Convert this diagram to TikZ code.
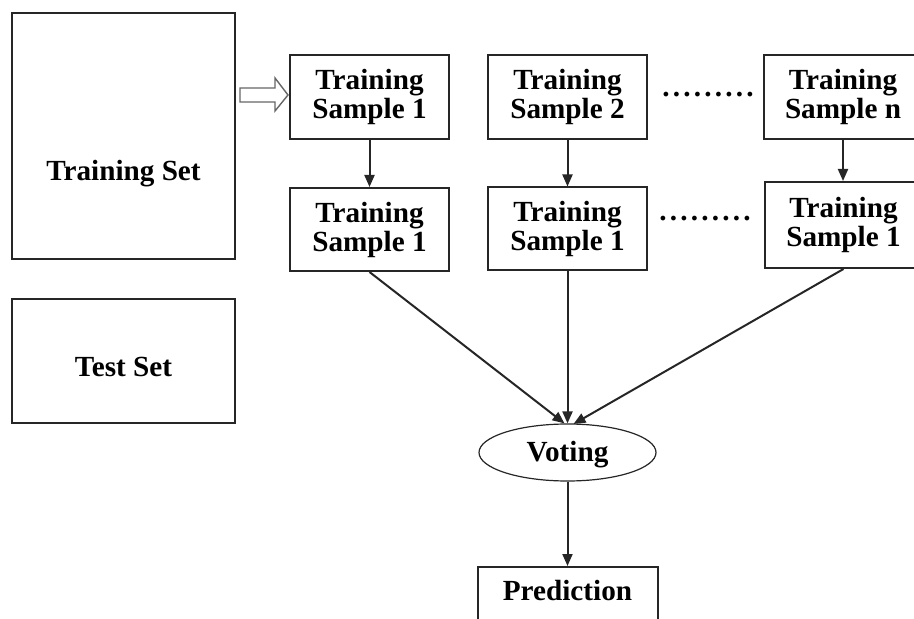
\documentclass[tikz,border=0pt]{standalone}
\usepackage{fontspec}
\setmainfont{Liberation Serif}
\usetikzlibrary{arrows.meta,shapes.geometric}
\begin{document}
\begin{tikzpicture}[x=0.5pt,y=-0.5pt,
 box/.style={draw=black!85,line width=1pt,inner sep=0pt,align=center,font=\fontsize{14.6}{14.5}\selectfont\bfseries},
 txt/.style={inner sep=0pt,align=center,font=\fontsize{14.6}{14.5}\selectfont\bfseries},
 arr/.style={draw=black!85,line width=1pt,-{Triangle[length=6pt,width=5pt]}},
 sbox/.style={box,minimum width=79.5pt,minimum height=42pt}]
\useasboundingbox (0,0) rectangle (914,619);
\clip (0,0) rectangle (914,619);
% left boxes
\node[box,minimum width=111.5pt,minimum height=123pt] (tset) at (123.5,136) {};
\node[txt] (tsetlbl) at (123.5,174) {Training Set};
\node[box,minimum width=111.5pt,minimum height=62pt] (test) at (123.5,361) {};
\node[txt] (testlbl) at (123.5,367) {Test Set};
% hollow arrow
\draw[draw=black!60,line width=0.7pt,fill=white] (240,88) -- (275,88) -- (275,78) -- (288,95) -- (275,111) -- (275,102) -- (240,102) -- cycle;
% sample boxes
\node[sbox] (a1) at (369.5,97) {Training\\Sample 1};
\node[sbox] (a2) at (567.5,97) {Training\\Sample 2};
\node[sbox,minimum width=79pt] (an) at (843,97) {Training\\Sample n};
\node[sbox,minimum height=41.5pt] (b1) at (369.5,229.5) {Training\\Sample 1};
\node[sbox,minimum height=41.5pt] (b2) at (567.5,229) {Training\\Sample 1};
\node[sbox,minimum width=78.5pt,minimum height=43pt] (bn) at (843.5,225) {Training\\Sample 1};
% dots
\node[txt,anchor=base] (d1) at (708,97) {\addfontfeature{LetterSpace=11}.........};
\node[txt,anchor=base] (d2) at (705,221) {\addfontfeature{LetterSpace=11}.........};
% voting and prediction
\node[draw=black!85,line width=0.6pt,ellipse,inner sep=0pt,minimum width=88.5pt,minimum height=28.5pt] (vote) at (567.5,452.5) {};
\node[txt] (votelbl) at (567.5,455) {Voting};
\node[box,minimum width=90pt,minimum height=30pt] (pred) at (567.5,597) {};
\node[txt] (predlbl) at (567.5,591) {Prediction};
% connectors
\draw[arr] (a1) -- (b1);
\draw[arr] (a2) -- (b2);
\draw[arr] (an.south) -- (an.south |- bn.north);
\draw[arr] (b1.south) -- ([xshift=-1.5pt]vote.north);
\draw[arr] (b2.south) -- (vote.north);
\draw[arr] (bn.south) -- ([xshift=3pt,yshift=-0.3pt]vote.north);
\draw[arr] (vote.south) -- (pred.north);
\end{tikzpicture}
\end{document}
